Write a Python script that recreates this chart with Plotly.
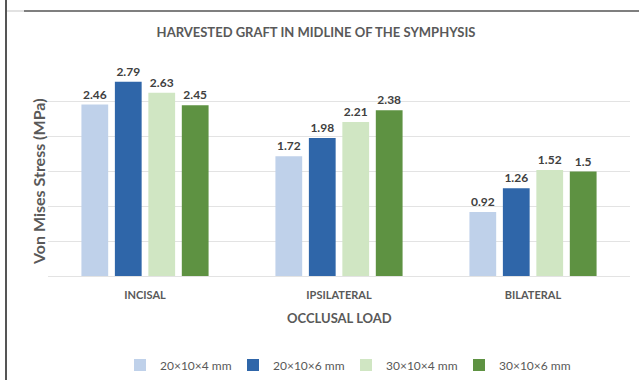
import plotly.graph_objects as go

# Occlusal load cases and graft sizes
loads = ["INCISAL", "IPSILATERAL", "BILATERAL"]
graft_20x10x4 = [2.46, 1.72, 0.92]
graft_20x10x6 = [2.79, 1.98, 1.26]
graft_30x10x4 = [2.63, 2.21, 1.52]
graft_30x10x6 = [2.45, 2.38, 1.50]

series = [
    ("20×10×4 mm", graft_20x10x4, "#BFD1EA"),
    ("20×10×6 mm", graft_20x10x6, "#2F66A9"),
    ("30×10×4 mm", graft_30x10x4, "#D0E6C3"),
    ("30×10×6 mm", graft_30x10x6, "#5E9242"),
]

W, H = 639, 380
L, R, T, B = 48, 9, 67, 104
PW, PH = W - L - R, H - T - B


def px_x(x):
    return (x - L) / PW


def px_y(y):
    return (H - B - y) / PH


FONT = "Lato"
GREY = "#595959"

fig = go.Figure()
for name, vals, color in series:
    fig.add_trace(go.Bar(
        name=name,
        x=loads,
        y=vals,
        marker=dict(color=color, line=dict(width=0)),
        text=[str(v) for v in vals],
        textposition="outside",
        textfont=dict(family=FONT, size=12, color="#404040", weight="bold"),
        cliponaxis=False,
    ))

fig.update_layout(
    width=W, height=H,
    margin=dict(l=L, r=R, t=T, b=B, autoexpand=False),
    paper_bgcolor="white",
    plot_bgcolor="white",
    barmode="group",
    bargap=0.31,
    bargroupgap=0.2,
    font=dict(family=FONT, color=GREY),
    title=dict(
        text="HARVESTED GRAFT IN MIDLINE OF THE SYMPHYSIS",
        xref="container", yref="container",
        x=316 / W, y=1 - 32 / H, xanchor="center", yanchor="middle",
        font=dict(family=FONT, size=13, color=GREY, weight="bold"),
    ),
    xaxis=dict(
        showgrid=False, showline=False, ticks="",
        ticklabelstandoff=11,
        tickfont=dict(family=FONT, size=11, color=GREY, weight="bold"),
    ),
    yaxis=dict(
        range=[0, 3], dtick=0.5, showticklabels=False,
        showgrid=True, gridcolor="#E3E3E3", gridwidth=1,
        zeroline=True, zerolinecolor="#E3E3E3", zerolinewidth=1,
        showline=False, ticks="",
    ),
    showlegend=True,
    legend=dict(
        orientation="h",
        xref="container", yref="container",
        x=120 / W, xanchor="left",
        y=1 - 365 / H, yanchor="middle",
        font=dict(family=FONT, size=12, color=GREY),
        itemwidth=30,
        entrywidth=68,
        traceorder="normal",
    ),
    annotations=[
        dict(
            text="Von Mises Stress (MPa)", textangle=-90,
            xref="paper", yref="paper",
            x=px_x(38), y=px_y(182), xanchor="center", yanchor="middle",
            showarrow=False,
            font=dict(family=FONT, size=16, color=GREY, weight="bold"),
        ),
        dict(
            text="OCCLUSAL LOAD",
            xref="paper", yref="paper",
            x=px_x(339), y=px_y(318), xanchor="center", yanchor="middle",
            showarrow=False,
            font=dict(family=FONT, size=13, color=GREY, weight="bold"),
        ),
    ],
    shapes=[
        # outer frame: left edge and top edge
        dict(type="line", xref="paper", yref="paper",
             x0=px_x(6), x1=px_x(6), y0=px_y(0), y1=px_y(H),
             line=dict(color="#555555", width=2)),
        dict(type="line", xref="paper", yref="paper",
             x0=px_x(7), x1=px_x(24), y0=px_y(11), y1=px_y(11),
             line=dict(color="#D8D8D8", width=1.5)),
        dict(type="line", xref="paper", yref="paper",
             x0=px_x(24), x1=px_x(W), y0=px_y(11), y1=px_y(11),
             line=dict(color="#555555", width=1.5)),
    ],
)

fig.write_html("out.html")
